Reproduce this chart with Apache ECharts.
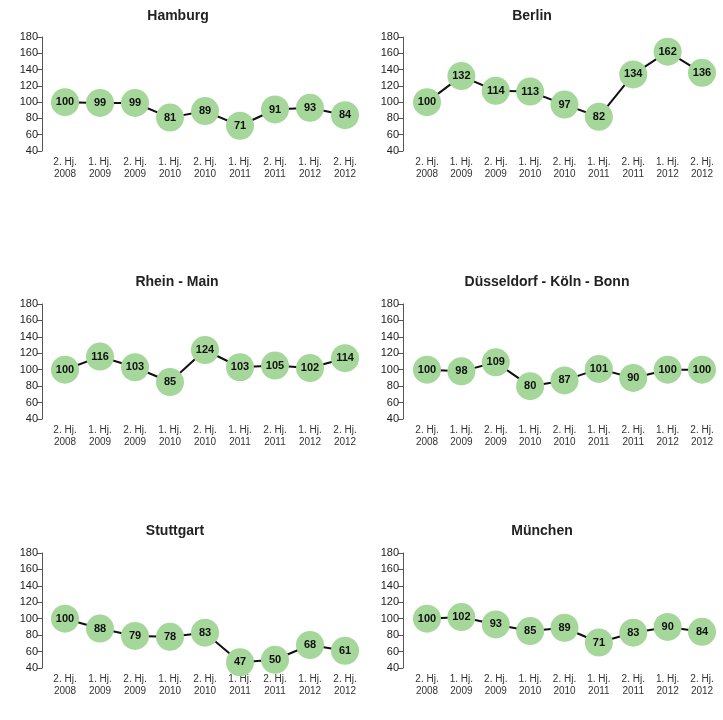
<!DOCTYPE html>
<html>
<head>
<meta charset="utf-8">
<script src="https://cdn.jsdelivr.net/npm/echarts@6/dist/echarts.min.js"></script>
<style>
  html, body { margin: 0; padding: 0; background: #fff; }
  #chart { width: 723px; height: 720px; }
</style>
</head>
<body>
<div id="chart"></div>
<script>
// Half-year periods
const periods = ['2. Hj.\n2008', '1. Hj.\n2009', '2. Hj.\n2009', '1. Hj.\n2010', '2. Hj.\n2010',
                 '1. Hj.\n2011', '2. Hj.\n2011', '1. Hj.\n2012', '2. Hj.\n2012'];

// Index values per region (2. Hj. 2008 = 100)
const hamburg     = [100, 99, 99, 81, 89, 71, 91, 93, 84];
const berlin      = [100, 132, 114, 113, 97, 82, 134, 162, 136];
const rheinMain   = [100, 116, 103, 85, 124, 103, 105, 102, 114];
const duesseldorf = [100, 98, 109, 80, 87, 101, 90, 100, 100];
const stuttgart   = [100, 88, 79, 78, 83, 47, 50, 68, 61];
const muenchen    = [100, 102, 93, 85, 89, 71, 83, 90, 84];

const yTicks = { min: 40, max: 180, interval: 20 };

const panels = [
  { name: 'Hamburg', data: hamburg, titleX: 178 },
  { name: 'Berlin', data: berlin, titleX: 532 },
  { name: 'Rhein - Main', data: rheinMain, titleX: 177 },
  { name: 'Düsseldorf - Köln - Bonn', data: duesseldorf, titleX: 547 },
  { name: 'Stuttgart', data: stuttgart, titleX: 175 },
  { name: 'München', data: muenchen, titleX: 542 }
];

// panel geometry: plot area (first to last category) and y-axis line position
const cols = [
  { axisX: 42, left: 65, right: 345 },
  { axisX: 403, left: 427, right: 702 }
];
const rows = [
  { top: 37, bottom: 151, titleY: 15 },
  { top: 304, bottom: 419, titleY: 281 },
  { top: 553, bottom: 668, titleY: 530 }
];

const FONT = '"Liberation Sans", Arial, sans-serif';
const grid = [], xAxis = [], yAxis = [], series = [], title = [];

panels.forEach((p, i) => {
  const c = cols[i % 2], r = rows[Math.floor(i / 2)];
  grid.push({ left: c.left, top: r.top, width: c.right - c.left, height: r.bottom - r.top });
  title.push({
    text: p.name, left: p.titleX, top: r.titleY - 6, textAlign: 'center', padding: 0,
    textStyle: { fontFamily: FONT, fontSize: 14, fontWeight: 'bold', color: '#222' }
  });
  xAxis.push({
    type: 'category', gridIndex: i, data: periods, boundaryGap: false,
    axisLine: { show: false }, axisTick: { show: false }, splitLine: { show: false },
    axisLabel: { interval: 0, margin: 5, fontFamily: FONT, fontSize: 10, lineHeight: 12, color: '#333' }
  });
  yAxis.push({
    type: 'value', gridIndex: i, min: yTicks.min, max: yTicks.max, interval: yTicks.interval,
    offset: c.left - c.axisX,
    axisLine: { show: true, lineStyle: { color: '#555', width: 1 } },
    axisTick: { show: true, length: 5, lineStyle: { color: '#555' } },
    splitLine: { show: false },
    axisLabel: { margin: 4, fontFamily: FONT, fontSize: 11, color: '#222' }
  });
  series.push({
    type: 'line', xAxisIndex: i, yAxisIndex: i, data: p.data,
    symbol: 'circle', symbolSize: 28,
    lineStyle: { color: '#111', width: 2 },
    itemStyle: { color: '#a4d799' },
    label: { show: true, position: 'inside', fontFamily: FONT, fontSize: 11, fontWeight: 'bold', color: '#111' },
    animation: false, silent: true
  });
});

const chart = echarts.init(document.getElementById('chart'), null, { renderer: 'canvas' });
chart.setOption({ animation: false, title, grid, xAxis, yAxis, series });
</script>
</body>
</html>
